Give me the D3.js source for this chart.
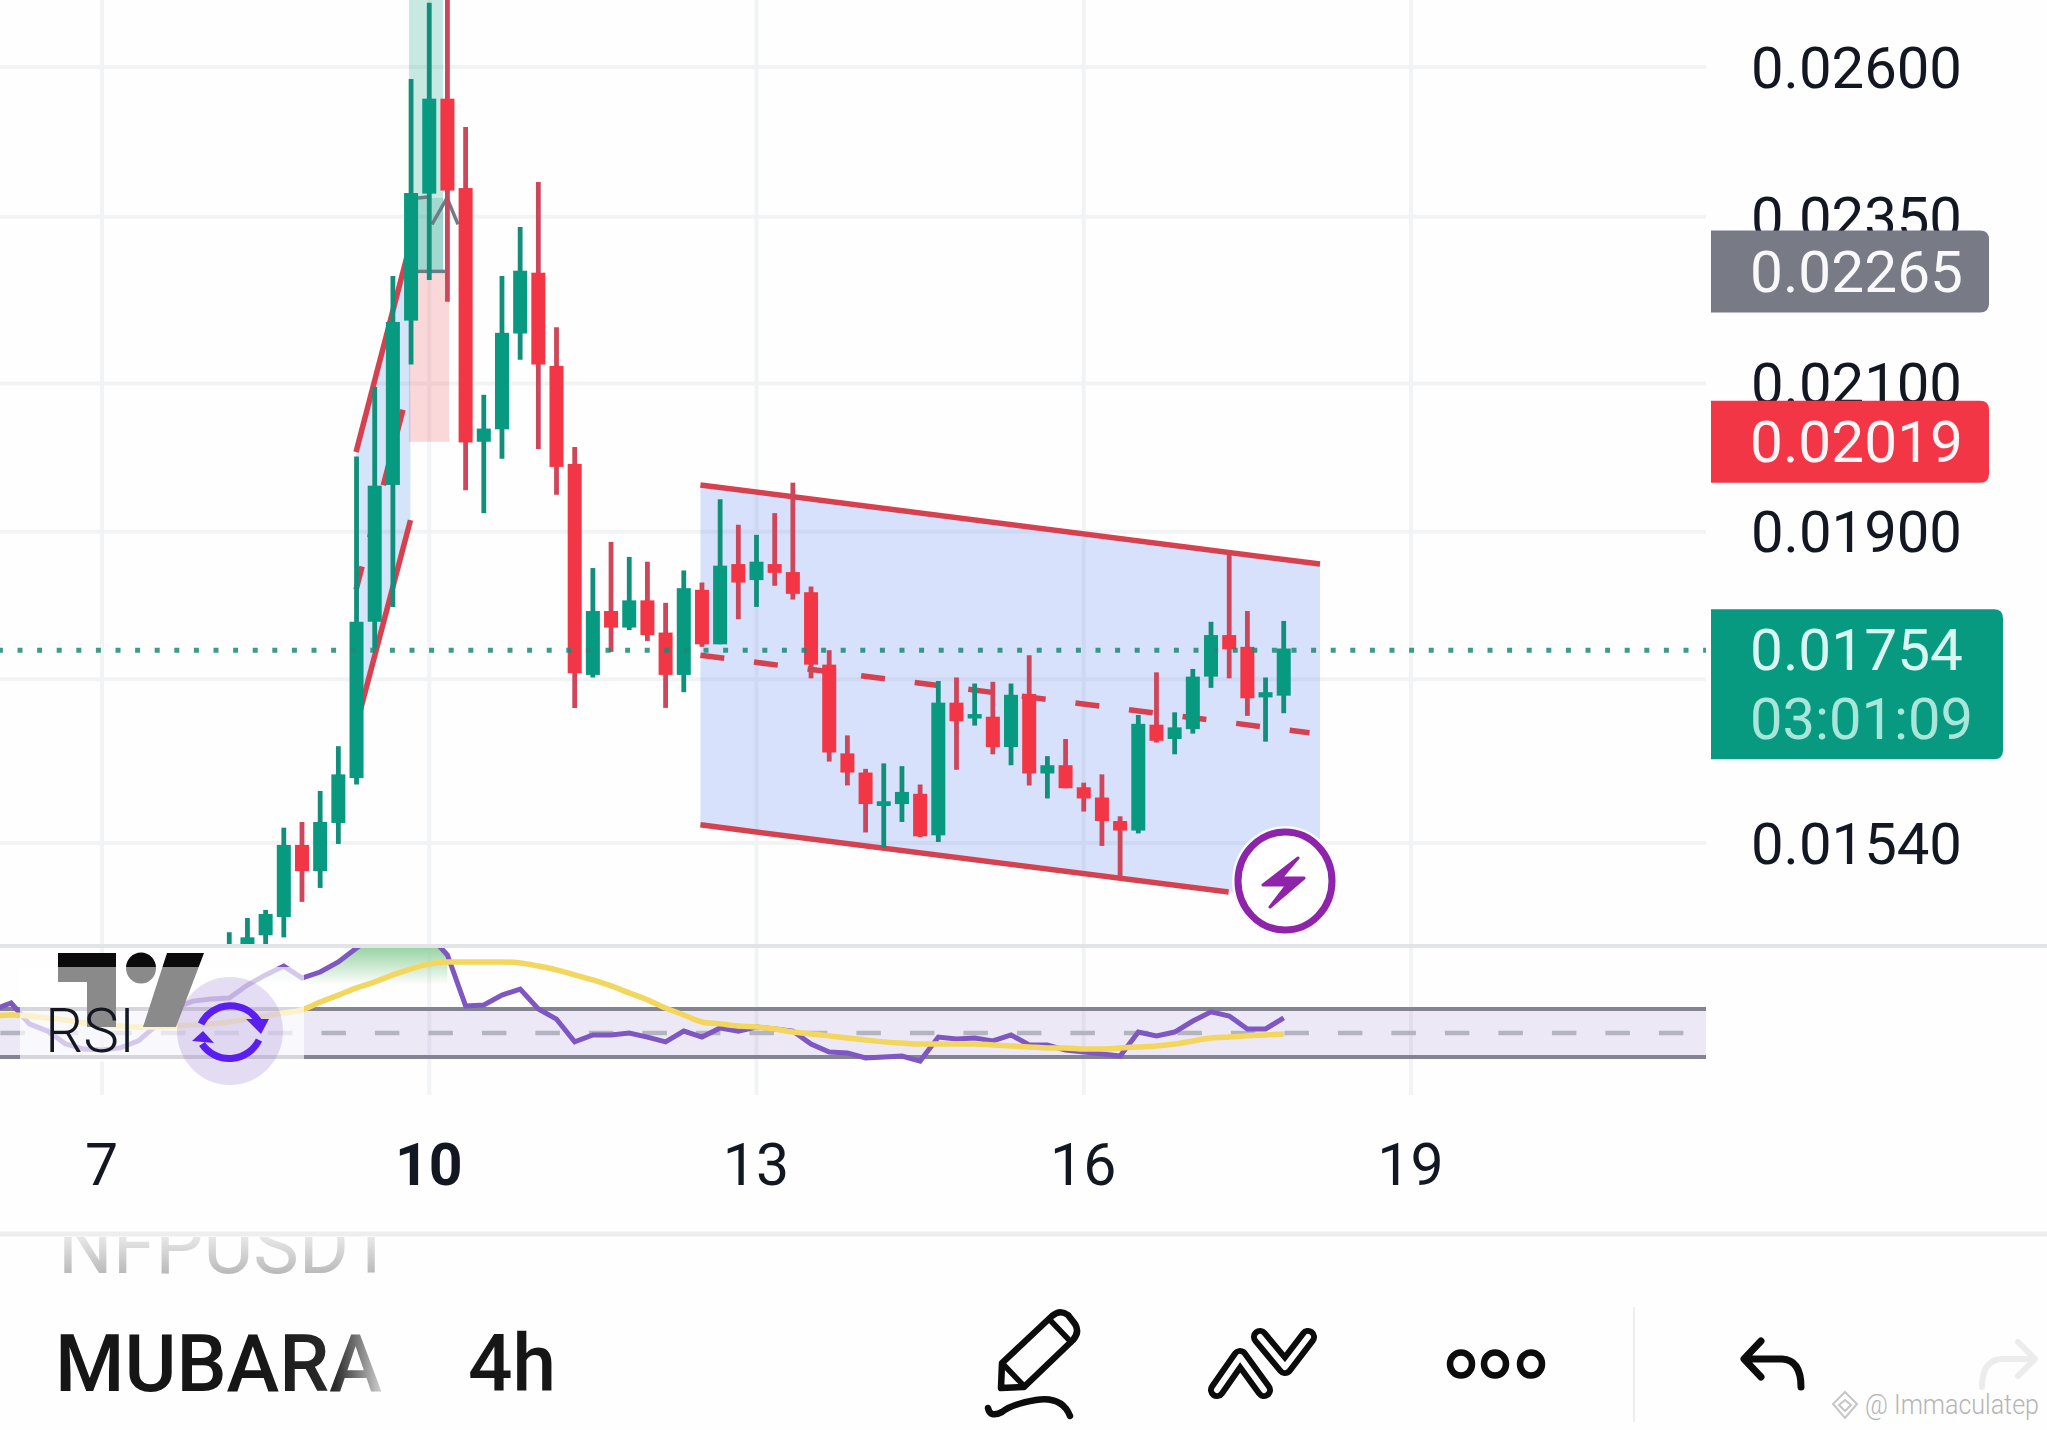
<!DOCTYPE html>
<html>
<head>
<meta charset="utf-8">
<script src="https://cdn.jsdelivr.net/npm/d3@7"></script>
<style>
  html, body { margin: 0; padding: 0; background: #fefefe; }
  svg { display: block; }
  text { font-family: Roboto, sans-serif; }
</style>
</head>
<body>
<div id="chart"></div>
<script>
// candles, 4h each, oldest first
const candleHigh = [.01450,.01464,.01472,.01556,.01562,.01595,.01644,.01999,.02095,.02258,.02579,.02715,.02729,.02497,.02084,.02258,.02334,.02406,.02181,.02012,
  .01854,.01887,.01868,.01862,.01811,.01851,.01836,.01942,.01909,.01896,.01924,.01964,.01831,.01754,.01656,.01619,.01625,.01622,.01602,.01718,
  .01722,.01715,.01717,.01715,.01748,.01633,.01652,.01604,.01613,.01568,.01679,.01728,.01682,.01732,.01788,.01871,.01801,.01722,.01789];
const candleLow = [.01419,.01428,.01433,.01445,.01480,.01494,.01539,.01602,.01756,.01806,.02127,.02252,.02219,.01954,.01924,.01996,.02134,.02009,.01948,.01687,
  .01722,.01752,.01778,.01765,.01687,.01705,.01758,.01761,.01791,.01806,.01832,.01815,.01721,.01627,.01601,.01551,.01535,.01562,.01546,.01541,
  .01618,.01667,.01635,.01623,.01601,.01587,.01598,.01573,.01537,.01505,.01550,.01648,.01635,.01658,.01710,.01721,.01678,.01649,.01681];
const candleOpen = [.01424,.01433,.01447,.01465,.01538,.01511,.01561,.01609,.01788,.01961,.02191,.02387,.02545,.02396,.02019,.02036,.02172,.02263,.02125,.01989,
  .01725,.01801,.01781,.01814,.01775,.01725,.01827,.01761,.01859,.01839,.01859,.01849,.01824,.01737,.01636,.01615,.01579,.01581,.01592,.01548,
  .01693,.01675,.01677,.01643,.01703,.01614,.01623,.01599,.01588,.01563,.01553,.01668,.01652,.01663,.01723,.01772,.01758,.01699,.01701];
const candleClose = [.01433,.01445,.01468,.01538,.01511,.01562,.01613,.01788,.01960,.02189,.02388,.02545,.02392,.02018,.02037,.02173,.02266,.02127,.01985,.01727,
  .01801,.01781,.01814,.01772,.01725,.01829,.01761,.01857,.01836,.01862,.01848,.01822,.01737,.01637,.01615,.01581,.01584,.01594,.01547,.01693,
  .01672,.01680,.01643,.01702,.01614,.01623,.01598,.01587,.01563,.01553,.01669,.01650,.01665,.01723,.01772,.01755,.01698,.01705,.01756];

// rsi and its average, starts 13 candles before the candle list
const rsiValues = [59.6,62.5,53.8,50.8,45.4,43.3,42.9,43.8,46.7,53.3,60.4,63.3,64.2,64.6,70,74.2,77.9,72.9,75.4,79.6,85.4,90.8,95,92.9,90.8,82.5,61.3,61.7,65.8,68.3,60,55.8,46.3,49.2,49.2,50,
  48.3,46.3,50.8,48.3,52.1,50.8,52.5,51.7,50.8,45.4,42.1,41.7,39.6,40,40.4,38.3,48.3,47.5,47.9,46.7,49.2,45,45,42.9,42.1,41.3,40.4,50.4,48.8,50.4,55,58.8,57.1,51.7,51.7,56.3];
const rsiAverage = [57.1,57.5,57.1,56.3,55.4,54.2,53.3,52.9,52.5,52.5,52.9,53.3,53.8,54.6,55.8,57.1,58.3,59.6,62.9,65.8,68.8,71.3,74.2,76.7,78.8,79.6,79.6,79.6,79.6,79.2,77.9,76.3,74.2,72.1,69.6,66.7,
  63.8,60.4,57.5,54.6,53.8,52.9,52.5,51.7,50.4,49.6,48.8,47.9,47.1,46.3,45.8,45.4,45.4,45.4,45.4,45,44.6,44.2,43.8,43.8,43.3,43.3,43.8,44.2,44.6,45.4,46.7,47.9,48.3,48.8,49.2,49.6];

const priceLabels = [0.026, 0.0235, 0.021, 0.019, 0.0154];
const priceGrid = [0.026, 0.0235, 0.021, 0.019, 0.0172, 0.0154];
const dayTicks = [7, 10, 13, 16, 19];

const lastPrice = 0.01754;
const countdown = "03:01:09";
const entryPrice = 0.02265;
const stopPrice = 0.02019;

// channel drawings as [day, price]
const bigTop = [[12.486, .01961], [18.166, .01859]];
const bigBottom = [[12.486, .01559], [18.166, .01478]];
const bigMid = [[12.486, .01748], [18.07, .01659]];
const bigBottomEnd = [[12.486, .01559], [17.328, .01490]];
const smallTop = [[9.329, .02005], [9.824, .02306]];
const smallBottom = [[9.329, .01666], [9.828, .01915]];
const smallMid = [[9.329, .01827], [9.824, .02101]];
const tradeLeft = 9.814, tradeRight = 10.181, tradeRightTop = 10.126, tradeTop = 0.0276;
const tradeInner = [[9.897, .0238], [10.126, .02265]];
const tradePath = [[9.897, .0238], [10.007, .02382]];
const tradePath2 = [[10.025, .02338], [10.163, .0238], [10.264, .02338]];
const tradeEntryLine = [[9.897, .02265], [10.144, .02265]];

const svgWidth = 2047, svgHeight = 1430;
const paneRight = 1706;

const svg = d3.select("#chart").append("svg")
  .attr("width", svgWidth).attr("height", svgHeight);

svg.append("rect").attr("width", svgWidth).attr("height", svgHeight).attr("fill", "#fefefe");

const x = d3.scaleLinear().domain([7, 19]).range([102, 1411]);
const y = d3.scaleLog().domain([0.026, 0.0154]).range([67, 843]);
const yRsi = d3.scaleLinear().domain([60, 40]).range([1009, 1057]);

const candleDay = i => 10 + (i - 11) / 6;
const rsiDay = i => 10 + (i - 24) / 6;
const pt = d3.line().x(d => x(d[0])).y(d => y(d[1]));

const defs = svg.append("defs");
defs.append("clipPath").attr("id", "mainClip").append("rect")
  .attr("x", 0).attr("y", 0).attr("width", paneRight).attr("height", 944);
defs.append("clipPath").attr("id", "rsiClip").append("rect")
  .attr("x", 0).attr("y", 948).attr("width", paneRight).attr("height", 147);

const greenFade = defs.append("linearGradient").attr("id", "greenFade")
  .attr("gradientUnits", "userSpaceOnUse").attr("x1", 0).attr("x2", 0).attr("y1", 948).attr("y2", 985);
greenFade.append("stop").attr("offset", 0).attr("stop-color", "#9ad4a4");
greenFade.append("stop").attr("offset", 1).attr("stop-color", "#9ad4a4").attr("stop-opacity", 0);

const fadeName = defs.append("linearGradient").attr("id", "fadeName")
  .attr("gradientUnits", "userSpaceOnUse").attr("x1", 58).attr("x2", 384).attr("y1", 0).attr("y2", 0);
fadeName.append("stop").attr("offset", 0.6).attr("stop-color", "#161616");
fadeName.append("stop").attr("offset", 0.85).attr("stop-color", "#2a2a2a");
fadeName.append("stop").attr("offset", 1).attr("stop-color", "#d8d8d8");

const fadeTop = defs.append("linearGradient").attr("id", "fadeTop")
  .attr("gradientUnits", "userSpaceOnUse").attr("x1", 0).attr("x2", 0).attr("y1", 1238).attr("y2", 1274);
fadeTop.append("stop").attr("offset", 0).attr("stop-color", "#e6e6e6");
fadeTop.append("stop").attr("offset", 1).attr("stop-color", "#b9b9b9");
defs.append("clipPath").attr("id", "tickerClip").append("rect")
  .attr("x", 0).attr("y", 1237).attr("width", 500).attr("height", 60);

// logo is black above the strip, grey inside it
const logoFill = defs.append("linearGradient").attr("id", "logoFill")
  .attr("gradientUnits", "userSpaceOnUse").attr("x1", 0).attr("x2", 0).attr("y1", 953).attr("y2", 1027);
logoFill.append("stop").attr("offset", 0.19).attr("stop-color", "#0b0b0b");
logoFill.append("stop").attr("offset", 0.19).attr("stop-color", "#8a8a8a");

// grid
svg.append("g").selectAll("line").data(priceGrid).enter().append("line")
  .attr("x1", 0).attr("x2", paneRight)
  .attr("y1", d => y(d)).attr("y2", d => y(d))
  .attr("stroke", "#f2f3f4").attr("stroke-width", 4);
svg.append("g").selectAll("line").data(dayTicks).enter().append("line")
  .attr("x1", d => x(d)).attr("x2", d => x(d))
  .attr("y1", 0).attr("y2", 1095)
  .attr("stroke", "#f2f3f4").attr("stroke-width", 4);

// drawings under the candles
const main = svg.append("g").attr("clip-path", "url(#mainClip)");

main.append("path")
  .attr("d", pt([bigTop[0], bigTop[1], bigBottom[1], bigBottom[0]]) + "Z")
  .attr("fill", "#2f62f0").attr("opacity", 0.185);
main.append("path")
  .attr("d", pt([smallTop[0], smallTop[1], smallBottom[1], smallBottom[0]]) + "Z")
  .attr("fill", "#2f7fe8").attr("opacity", 0.2);

main.append("rect")
  .attr("x", x(tradeLeft)).attr("width", x(tradeRight) - x(tradeLeft))
  .attr("y", y(entryPrice)).attr("height", y(stopPrice) - y(entryPrice))
  .attr("fill", "#ea3a45").attr("opacity", 0.2);
main.append("rect")
  .attr("x", x(tradeLeft)).attr("width", x(tradeRightTop) - x(tradeLeft))
  .attr("y", y(tradeTop)).attr("height", y(entryPrice) - y(tradeTop))
  .attr("fill", "#089981").attr("opacity", 0.22);
main.append("rect")
  .attr("x", x(tradeInner[0][0])).attr("width", x(tradeInner[1][0]) - x(tradeInner[0][0]))
  .attr("y", y(tradeInner[0][1])).attr("height", y(tradeInner[1][1]) - y(tradeInner[0][1]))
  .attr("fill", "#089981").attr("opacity", 0.2);

const redLine = "#d6414f";
[bigTop, bigBottomEnd, smallTop, smallBottom].forEach(function(seg) {
  main.append("path").attr("d", pt(seg)).attr("fill", "none")
    .attr("stroke", redLine).attr("stroke-width", 5.5);
});
[bigMid, smallMid].forEach(function(seg) {
  main.append("path").attr("d", pt(seg)).attr("fill", "none")
    .attr("stroke", redLine).attr("stroke-width", 5.5)
    .attr("stroke-dasharray", "24 30");
});
[tradePath, tradePath2, tradeEntryLine].forEach(function(seg) {
  main.append("path").attr("d", pt(seg)).attr("fill", "none")
    .attr("stroke", "#6e7d85").attr("stroke-width", 3.5);
});

// candles
const candleIdx = d3.range(candleHigh.length);
const isUp = i => candleClose[i] >= candleOpen[i];
const bodyW = (x(1) - x(0)) / 6 * 0.77;

main.append("g").selectAll("line").data(candleIdx).enter().append("line")
  .attr("x1", i => x(candleDay(i))).attr("x2", i => x(candleDay(i)))
  .attr("y1", i => y(candleHigh[i])).attr("y2", i => y(candleLow[i]))
  .attr("stroke", i => isUp(i) ? "#128f7a" : "#cf4559")
  .attr("stroke-width", 4.8);

main.append("g").selectAll("rect").data(candleIdx).enter().append("rect")
  .attr("x", i => x(candleDay(i)) - bodyW / 2)
  .attr("width", bodyW)
  .attr("y", i => y(Math.max(candleOpen[i], candleClose[i])))
  .attr("height", i => y(Math.min(candleOpen[i], candleClose[i])) - y(Math.max(candleOpen[i], candleClose[i])))
  .attr("fill", i => isUp(i) ? "#089981" : "#f23645");

// last price dots
svg.append("line")
  .attr("x1", 0).attr("x2", paneRight)
  .attr("y1", y(lastPrice)).attr("y2", y(lastPrice))
  .attr("stroke", "#1b8a78").attr("stroke-width", 5)
  .attr("stroke-dasharray", "5 14.6").attr("stroke-dashoffset", -17.5)
  .attr("opacity", 0.85);

// lightning badge
const badge = svg.append("g");
badge.append("ellipse").attr("cx", 1285).attr("cy", 881).attr("rx", 53).attr("ry", 55).attr("fill", "#f8f8fd");
badge.append("ellipse").attr("cx", 1285).attr("cy", 881).attr("rx", 47).attr("ry", 49)
  .attr("fill", "#ffffff").attr("stroke", "#8e24aa").attr("stroke-width", 7);
badge.append("path")
  .attr("d", "M1298,858 L1263,885 L1287,885 L1270,907 L1304,878 L1281,878 Z")
  .attr("fill", "#8e24aa").attr("stroke", "#8e24aa").attr("stroke-width", 3).attr("stroke-linejoin", "round");

// separators
svg.append("line").attr("x1", 0).attr("x2", svgWidth).attr("y1", 946).attr("y2", 946)
  .attr("stroke", "#e3e4e8").attr("stroke-width", 4);
svg.append("line").attr("x1", 0).attr("x2", svgWidth).attr("y1", 1234).attr("y2", 1234)
  .attr("stroke", "#eeeeef").attr("stroke-width", 5);

// rsi pane
svg.append("rect").attr("x", 0).attr("width", paneRight)
  .attr("y", yRsi(60)).attr("height", yRsi(40) - yRsi(60))
  .attr("fill", "#7e57c2").attr("opacity", 0.13);

svg.append("line").attr("x1", 0).attr("x2", paneRight).attr("y1", yRsi(60)).attr("y2", yRsi(60))
  .attr("stroke", "#83848f").attr("stroke-width", 4);
svg.append("line").attr("x1", 0).attr("x2", paneRight).attr("y1", yRsi(40)).attr("y2", yRsi(40))
  .attr("stroke", "#83848f").attr("stroke-width", 4);
svg.append("line").attr("x1", 0).attr("x2", paneRight).attr("y1", yRsi(50)).attr("y2", yRsi(50))
  .attr("stroke", "#b4b4c0").attr("stroke-width", 4.5)
  .attr("stroke-dasharray", "24.5 29").attr("stroke-dashoffset", -0.4);

const rsiPane = svg.append("g").attr("clip-path", "url(#rsiClip)");
const rsiIdx = d3.range(rsiValues.length);
const hotIdx = rsiIdx.filter(i => i >= 14 && i <= 25);

rsiPane.append("path")
  .attr("d", d3.area().x(i => x(rsiDay(i))).y0(yRsi(70)).y1(i => yRsi(rsiValues[i]))(hotIdx))
  .attr("fill", "url(#greenFade)");
rsiPane.append("path")
  .attr("d", d3.line().x(i => x(rsiDay(i))).y(i => yRsi(rsiValues[i]))(rsiIdx))
  .attr("fill", "none").attr("stroke", "#7e57c2").attr("stroke-width", 5);
rsiPane.append("path")
  .attr("d", d3.line().x(i => x(rsiDay(i))).y(i => yRsi(rsiAverage[i])).curve(d3.curveMonotoneX)(rsiIdx))
  .attr("fill", "none").attr("stroke", "#f2d65e").attr("stroke-width", 5.5);

// pale strip behind the RSI label
svg.append("rect").attr("x", 20).attr("y", 967).attr("width", 284).attr("height", 95)
  .attr("fill", "#ffffff").attr("opacity", 0.68);

const logo = svg.append("g").attr("fill", "url(#logoFill)");
logo.append("path").attr("d", "M58,953 H116 V1027 H87 V982 H58 Z");
logo.append("ellipse").attr("cx", 141).attr("cy", 968).attr("rx", 15).attr("ry", 15.5);
logo.append("path").attr("d", "M167,953 H204 L176,1027 H143 Z");

svg.append("text").attr("x", 45).attr("y", 1052).text("RSI")
  .attr("font-size", 62).attr("font-weight", 300).attr("fill", "#131722")
  .attr("textLength", 90).attr("lengthAdjust", "spacingAndGlyphs");

// sync button
const sync = svg.append("g");
sync.append("ellipse").attr("cx", 230).attr("cy", 1031).attr("rx", 53).attr("ry", 54)
  .attr("fill", "#7e57c2").attr("opacity", 0.2);
sync.append("path").attr("d", "M201,1024 A33,33 0 0 1 259,1022")
  .attr("fill", "none").attr("stroke", "#5a1ff0").attr("stroke-width", 7);
sync.append("path").attr("d", "M259,1040 A33,33 0 0 1 202,1044")
  .attr("fill", "none").attr("stroke", "#5a1ff0").attr("stroke-width", 7);
sync.append("path").attr("d", "M246,1019 L269,1019 L261,1034 Z").attr("fill", "#5a1ff0");
sync.append("path").attr("d", "M214,1043 L192,1041 L203,1031 Z").attr("fill", "#5a1ff0");

// price axis
const yAxis = d3.axisRight(y).tickValues(priceLabels).tickFormat(d3.format(".5f")).tickSize(0).tickPadding(45);
const yAxisG = svg.append("g").attr("transform", `translate(${paneRight},0)`).call(yAxis);
yAxisG.select(".domain").remove();
yAxisG.selectAll("text")
  .attr("dy", ".355em").attr("font-size", 57).attr("font-family", "Roboto")
  .attr("fill", "#131722")
  .attr("textLength", 211).attr("lengthAdjust", "spacingAndGlyphs");

// day axis
const xAxis = d3.axisBottom(x).tickValues(dayTicks).tickFormat(d3.format("d")).tickSize(0).tickPadding(0);
const xAxisG = svg.append("g").attr("transform", "translate(-1,1164)").call(xAxis);
xAxisG.select(".domain").remove();
xAxisG.selectAll("text")
  .attr("dy", ".355em").attr("font-size", 59).attr("font-family", "Roboto")
  .attr("fill", "#131722")
  .attr("font-weight", d => d === 10 ? 700 : 400);

// price tags
function tagPath(x0, x1, y0, y1) {
  const r = 9;
  return `M${x0},${y0} H${x1 - r} Q${x1},${y0} ${x1},${y0 + r} V${y1 - r} Q${x1},${y1} ${x1 - r},${y1} H${x0} Z`;
}
function priceTag(price, fill) {
  const c = y(price);
  svg.append("path").attr("d", tagPath(1711, 1989, c - 41, c + 41)).attr("fill", fill);
  svg.append("text").attr("x", 1750).attr("y", c).attr("dy", ".355em")
    .text(d3.format(".5f")(price))
    .attr("font-size", 57).attr("fill", "#ffffff").attr("opacity", 0.95)
    .attr("textLength", 213).attr("lengthAdjust", "spacingAndGlyphs");
}
priceTag(entryPrice, "#787b86");
priceTag(stopPrice, "#f23645");

const lastY = y(lastPrice);
svg.append("path").attr("d", tagPath(1711, 2003, lastY - 41, lastY + 109)).attr("fill", "#089981");
svg.append("text").attr("x", 1750).attr("y", lastY).attr("dy", ".355em")
  .text(d3.format(".5f")(lastPrice))
  .attr("font-size", 57).attr("fill", "#d8f7f1")
  .attr("textLength", 213).attr("lengthAdjust", "spacingAndGlyphs");
svg.append("text").attr("x", 1750).attr("y", lastY + 69).attr("dy", ".355em")
  .text(countdown)
  .attr("font-size", 57).attr("fill", "#a9e6da")
  .attr("textLength", 223).attr("lengthAdjust", "spacingAndGlyphs");

// bottom toolbar
svg.append("text").attr("x", 58).attr("y", 1273).text("NFPUSDT")
  .attr("clip-path", "url(#tickerClip)")
  .attr("font-size", 79).attr("fill", "url(#fadeTop)")
  .attr("textLength", 336).attr("lengthAdjust", "spacingAndGlyphs");
svg.append("text").attr("x", 55).attr("y", 1391).text("MUBARA")
  .attr("font-size", 79).attr("font-weight", 500).attr("fill", "url(#fadeName)")
  .attr("textLength", 327).attr("lengthAdjust", "spacingAndGlyphs");
svg.append("text").attr("x", 468).attr("y", 1391).text("4h")
  .attr("font-size", 79).attr("font-weight", 500).attr("fill", "#161616")
  .attr("textLength", 88).attr("lengthAdjust", "spacingAndGlyphs");

const icons = svg.append("g").attr("fill", "none").attr("stroke", "#0c0c0c").attr("stroke-linecap", "round").attr("stroke-linejoin", "round");

// pencil
icons.append("path").attr("stroke-width", 6.5)
  .attr("d", "M1001,1388 L1002,1363 L1052,1316 Q1060,1309 1068,1315 L1075,1324 Q1080,1332 1073,1340 L1024,1387 Z");
icons.append("path").attr("stroke-width", 5.5).attr("d", "M1003,1364 L1024,1386 M1050,1320 L1071,1342");
icons.append("path").attr("stroke-width", 6.5)
  .attr("d", "M1070,1416 Q1062,1396 1036,1400 Q1012,1404 1002,1412 Q990,1418 988,1408");

// zigzag
icons.append("path").attr("stroke-width", 18).attr("d", "M1217,1390 L1240,1357 L1264,1390");
icons.append("path").attr("stroke-width", 18).attr("d", "M1260,1337 L1285,1367 L1308,1337");
icons.append("path").attr("stroke-width", 6).attr("stroke", "#fefefe").attr("d", "M1217,1390 L1240,1357 L1264,1390");
icons.append("path").attr("stroke-width", 6).attr("stroke", "#fefefe").attr("d", "M1260,1337 L1285,1367 L1308,1337");

// three dots
[1461, 1495, 1531].forEach(function(cx) {
  icons.append("ellipse").attr("cx", cx).attr("cy", 1364).attr("rx", 11).attr("ry", 11.5).attr("stroke-width", 6.5);
});

svg.append("line").attr("x1", 1634).attr("x2", 1634).attr("y1", 1307).attr("y2", 1422)
  .attr("stroke", "#eeeeee").attr("stroke-width", 2);

// undo, redo
icons.append("path").attr("stroke-width", 7)
  .attr("d", "M1761,1341 L1744,1359 L1761,1377 M1746,1359 H1782 Q1801,1360 1801,1387");
icons.append("path").attr("stroke-width", 6).attr("stroke", "#ececec")
  .attr("d", "M2018,1342 L2035,1359 L2018,1376 M2033,1359 H2002 Q1982,1360 1982,1387");

// watermark
const wm = svg.append("g").attr("fill", "none").attr("stroke", "#c6c6c6").attr("stroke-width", 2);
wm.append("path").attr("d", "M1845,1392 L1857,1404 L1845,1418 L1833,1404 Z");
wm.append("path").attr("d", "M1845,1400 L1851,1405 L1845,1411 L1839,1405 Z");
svg.append("text").attr("x", 1865).attr("y", 1414).text("@ Immaculatep")
  .attr("font-size", 27).attr("font-weight", 300).attr("fill", "#b4b4b4")
  .attr("textLength", 174).attr("lengthAdjust", "spacingAndGlyphs");
</script>
</body>
</html>
